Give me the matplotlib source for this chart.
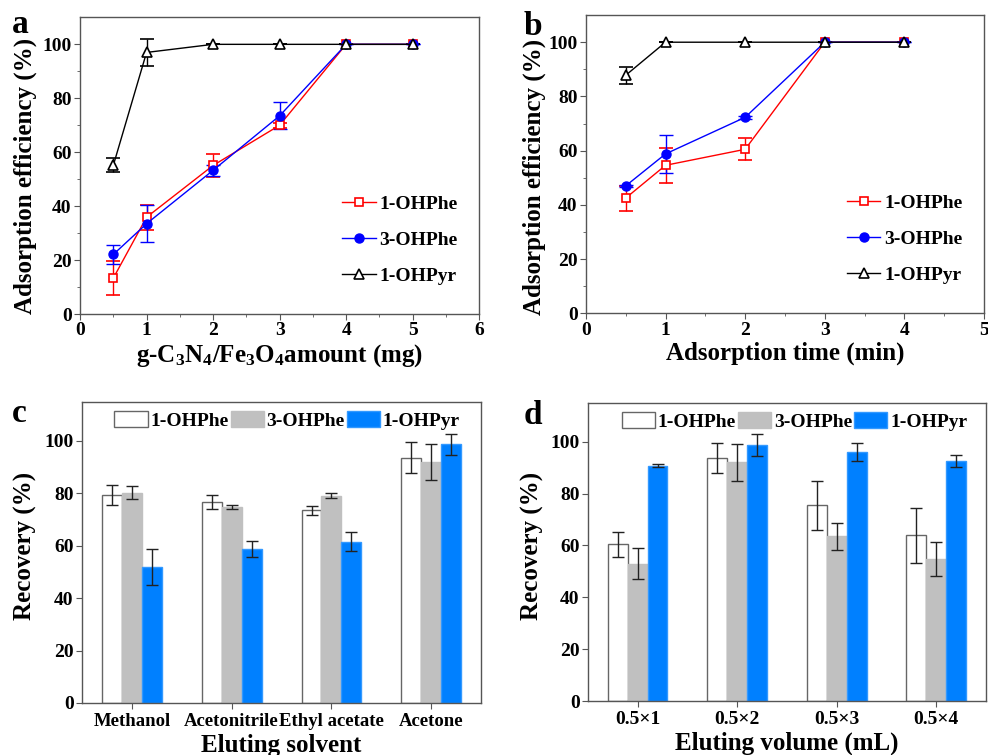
import matplotlib
matplotlib.use("Agg")
import matplotlib.pyplot as plt
import numpy as np

plt.rcParams['font.family'] = ['Liberation Serif', 'DejaVu Serif']
plt.rcParams['font.weight'] = 'bold'
plt.rcParams['axes.labelweight'] = 'bold'
plt.rcParams['mathtext.fontset'] = 'custom'
plt.rcParams['mathtext.rm'] = 'Liberation Serif:bold'
plt.rcParams['mathtext.bf'] = 'Liberation Serif:bold'
plt.rcParams['mathtext.it'] = 'Liberation Serif:bold'

# --- panel a: adsorbent amount ---
amount_x = [0.5, 1, 2, 3, 4, 5]
a_phe1 = [13.3, 35.9, 55.1, 70.0, 100, 100]
a_phe1_err = [6.3, 4.7, 4.4, 1.0, 0, 0]
a_phe3 = [22.1, 33.5, 53.3, 73.5, 100, 100]
a_phe3_err = [3.4, 6.8, 2.0, 5.0, 0, 0]
a_pyr = [55.1, 97.0, 100, 100, 100, 100]
a_pyr_err = [2.6, 5.0, 0, 0, 0, 0]

# --- panel b: adsorption time ---
time_x = [0.5, 1, 2, 3, 4]
b_phe1 = [42.5, 54.6, 60.5, 100, 100]
b_phe1_err = [4.6, 6.4, 4.1, 0, 0]
b_phe3 = [47.0, 58.8, 72.3, 100, 100]
b_phe3_err = [0.5, 7.0, 0.5, 0, 0]
b_pyr = [87.8, 100, 100, 100, 100]
b_pyr_err = [3.1, 0, 0, 0, 0]

# --- panel c: eluting solvent ---
solvents = ["Methanol", "Acetonitrile", "Ethyl acetate", "Acetone"]
c_phe1 = [79.3, 76.8, 73.5, 93.6]
c_phe1_err = [3.9, 2.7, 1.6, 5.9]
c_phe3 = [80.3, 74.8, 79.1, 92.1]
c_phe3_err = [2.4, 0.6, 0.9, 6.9]
c_pyr = [51.9, 58.8, 61.5, 98.7]
c_pyr_err = [6.9, 3.0, 3.6, 3.9]

# --- panel d: eluting volume ---
volumes = ["0.5×1", "0.5×2", "0.5×3", "0.5×4"]
d_phe1 = [60.4, 93.7, 75.4, 63.9]
d_phe1_err = [4.9, 5.9, 9.5, 10.7]
d_phe3 = [53.0, 92.0, 63.5, 54.8]
d_phe3_err = [6.0, 7.1, 5.3, 6.6]
d_pyr = [90.7, 98.6, 96.0, 92.5]
d_pyr_err = [0.6, 4.2, 3.5, 2.3]

names = ["1-OHPhe", "3-OHPhe", "1-OHPyr"]
SPINE = "#555555"

fig = plt.figure(figsize=(9.88, 7.55), dpi=100)
ax_a = fig.add_axes([0.081, 0.584, 0.404, 0.393])
ax_b = fig.add_axes([0.593, 0.585, 0.403, 0.395])
ax_c = fig.add_axes([0.083, 0.069, 0.404, 0.399])
ax_d = fig.add_axes([0.595, 0.0715, 0.403, 0.395])


def style(ax, yticks, xticks=None, xlabels=None, xsize=14):
    for s in ax.spines.values():
        s.set_color(SPINE)
        s.set_linewidth(1.0)
    ax.set_yticks(yticks)
    ax.set_yticklabels([str(v) for v in yticks], fontsize=14, fontweight='bold')
    if xticks is not None:
        ax.set_xticks(xticks)
        ax.set_xticklabels(xlabels, fontsize=xsize, fontweight='bold')
    ax.tick_params(which='both', direction='out', color=SPINE,
                   top=False, right=False)
    ax.tick_params(which='major', length=4, pad=2)
    ax.tick_params(which='minor', length=2.5)


def line_panel(ax, x, series, xmax, xlabel, ylab_xy):
    styles = [
        dict(color='red', marker='s', mfc='white', mec='red', ms=5.5, mew=1.2),
        dict(color='blue', marker='o', mfc='blue', mec='blue', ms=6.5),
        dict(color='black', marker='^', mfc='white', mec='black', ms=7, mew=1.2),
    ]
    handles = []
    for (y, e), st, nm in zip(series, styles, names):
        cont = ax.errorbar(x, y, yerr=e, lw=1.0, capsize=5, elinewidth=1.0,
                           capthick=1.0, label=nm, **st)
        handles.append(cont.lines[0])
    ax.set_xlim(0, xmax)
    ax.set_ylim(0, 110)
    style(ax, list(range(0, 101, 20)), list(range(0, xmax + 1)),
          [str(v) for v in range(0, xmax + 1)])
    ax.set_xticks(np.arange(0.5, xmax, 1.0), minor=True)
    ax.set_yticks(list(range(10, 110, 20)), minor=True)
    ax.set_xlabel(xlabel, fontsize=18, labelpad=2)
    ax.set_ylabel("Adsorption efficiency (%)", fontsize=18)
    ax.yaxis.set_label_coords(*ylab_xy)
    ax.legend(handles, names, loc='lower right', bbox_to_anchor=(0.99, 0.04),
              frameon=False, fontsize=14, handlelength=1.7, handletextpad=0.2,
              labelspacing=0.95)


def bar_panel(ax, cats, series, xlabel, ylab_xy, leg_x, xsize):
    x = np.arange(1, len(cats) + 1)
    w = 0.2
    colors = ['white', '#C0C0C0', '#0080FF']
    edges = ['#666666', '#C0C0C0', '#3399FF']
    for i, ((y, e), fc, ec, nm) in enumerate(zip(series, colors, edges, names)):
        ax.bar(x + (i - 1) * w, y, w, color=fc, edgecolor=ec, lw=1.0, label=nm,
               yerr=e, capsize=4,
               error_kw=dict(ecolor='#222222', elinewidth=1.0, capthick=1.0))
    ax.set_xlim(0.5, len(cats) + 0.5)
    ax.set_ylim(0, 115)
    style(ax, list(range(0, 101, 20)), x, cats, xsize)
    ax.tick_params(axis='x', pad=3)
    ax.set_xlabel(xlabel, fontsize=18, labelpad=3)
    ax.set_ylabel("Recovery (%)", fontsize=18)
    ax.yaxis.set_label_coords(*ylab_xy)
    ax.legend(loc='upper center', bbox_to_anchor=(leg_x, 1.027), ncol=3,
              frameon=False, fontsize=14, handlelength=1.7, handleheight=0.85,
              handletextpad=0.15, columnspacing=0.1)


line_panel(ax_a, amount_x,
           [(a_phe1, a_phe1_err), (a_phe3, a_phe3_err), (a_pyr, a_pyr_err)],
           6, r"g-C$_{3}$N$_{4}$/Fe$_{3}$O$_{4}$amount (mg)", (-0.108, 0.465))
line_panel(ax_b, time_x,
           [(b_phe1, b_phe1_err), (b_phe3, b_phe3_err), (b_pyr, b_pyr_err)],
           5, "Adsorption time (min)", (-0.100, 0.456))
bar_panel(ax_c, solvents,
          [(c_phe1, c_phe1_err), (c_phe3, c_phe3_err), (c_pyr, c_pyr_err)],
          "Eluting solvent", (-0.113, 0.52), 0.514, 13.5)
bar_panel(ax_d, volumes,
          [(d_phe1, d_phe1_err), (d_phe3, d_phe3_err), (d_pyr, d_pyr_err)],
          "Eluting volume (mL)", (-0.110, 0.52), 0.519, 14)

fig.text(0.012, 0.968, "a", fontsize=24, va='center', ha='left')
fig.text(0.530, 0.965, "b", fontsize=24, va='center', ha='left')
fig.text(0.012, 0.452, "c", fontsize=24, va='center', ha='left')
fig.text(0.530, 0.450, "d", fontsize=24, va='center', ha='left')

fig.savefig("out.png", dpi=100)
